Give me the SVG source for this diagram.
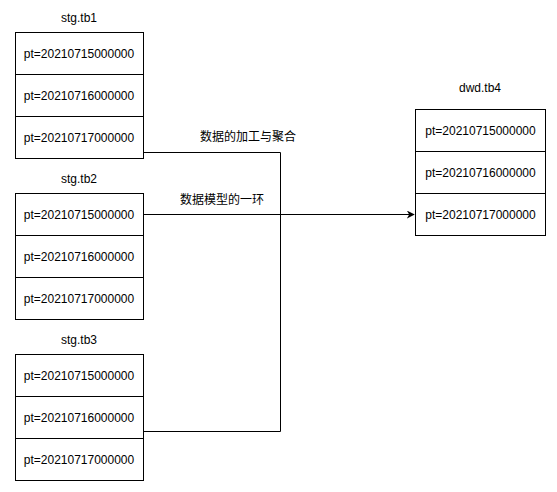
<svg xmlns="http://www.w3.org/2000/svg" width="557" height="492" viewBox="0 0 557 492">
<defs>
<style>
.cell{fill:#fff;stroke:#000;stroke-width:1}
.t{font-family:"Liberation Sans",Arial,"Noto Sans CJK SC",sans-serif;font-size:12px;fill:#000;text-anchor:middle}
.c{fill:none;stroke:#000;stroke-width:1}
</style>
<marker id="arr" viewBox="0 0 10 10" refX="9" refY="5" markerWidth="8" markerHeight="8" markerUnits="userSpaceOnUse" orient="auto">
<path d="M0,0 L10,5 L0,10 L3,5 Z" fill="#000"/>
</marker>
</defs>
<rect width="557" height="492" fill="#fff"/>
<g id="connectors">
<path class="c" d="M143.5,152.5 H280.5 V431.5 H143.5"/>
<path class="c" d="M143.5,214.5 H414" marker-end="url(#arr)"/>
<text class="t" x="248" y="141">数据的加工与聚合</text>
<text class="t" x="222" y="204">数据模型的一环</text>
</g>
<g id="tb1">
<text class="t" x="79" y="22">stg.tb1</text>
<rect class="cell" x="15.5" y="32.5" width="128" height="42"/>
<rect class="cell" x="15.5" y="74.5" width="128" height="42"/>
<rect class="cell" x="15.5" y="116.5" width="128" height="42"/>
<text class="t" x="79" y="57.5">pt=20210715000000</text>
<text class="t" x="79" y="99.5">pt=20210716000000</text>
<text class="t" x="79" y="141.5">pt=20210717000000</text>
</g>
<g id="tb2">
<text class="t" x="79" y="183">stg.tb2</text>
<rect class="cell" x="15.5" y="193.5" width="128" height="42"/>
<rect class="cell" x="15.5" y="235.5" width="128" height="42"/>
<rect class="cell" x="15.5" y="277.5" width="128" height="42"/>
<text class="t" x="79" y="218.5">pt=20210715000000</text>
<text class="t" x="79" y="260.5">pt=20210716000000</text>
<text class="t" x="79" y="302.5">pt=20210717000000</text>
</g>
<g id="tb3">
<text class="t" x="79" y="344">stg.tb3</text>
<rect class="cell" x="15.5" y="354.5" width="128" height="42"/>
<rect class="cell" x="15.5" y="396.5" width="128" height="42"/>
<rect class="cell" x="15.5" y="438.5" width="128" height="42"/>
<text class="t" x="79" y="379.5">pt=20210715000000</text>
<text class="t" x="79" y="421.5">pt=20210716000000</text>
<text class="t" x="79" y="463.5">pt=20210717000000</text>
</g>
<g id="tb4">
<text class="t" x="480" y="92">dwd.tb4</text>
<rect class="cell" x="415.5" y="109.5" width="130" height="42"/>
<rect class="cell" x="415.5" y="151.5" width="130" height="42"/>
<rect class="cell" x="415.5" y="193.5" width="130" height="42"/>
<text class="t" x="480.5" y="134.5">pt=20210715000000</text>
<text class="t" x="480.5" y="176.5">pt=20210716000000</text>
<text class="t" x="480.5" y="218.5">pt=20210717000000</text>
</g>
</svg>
